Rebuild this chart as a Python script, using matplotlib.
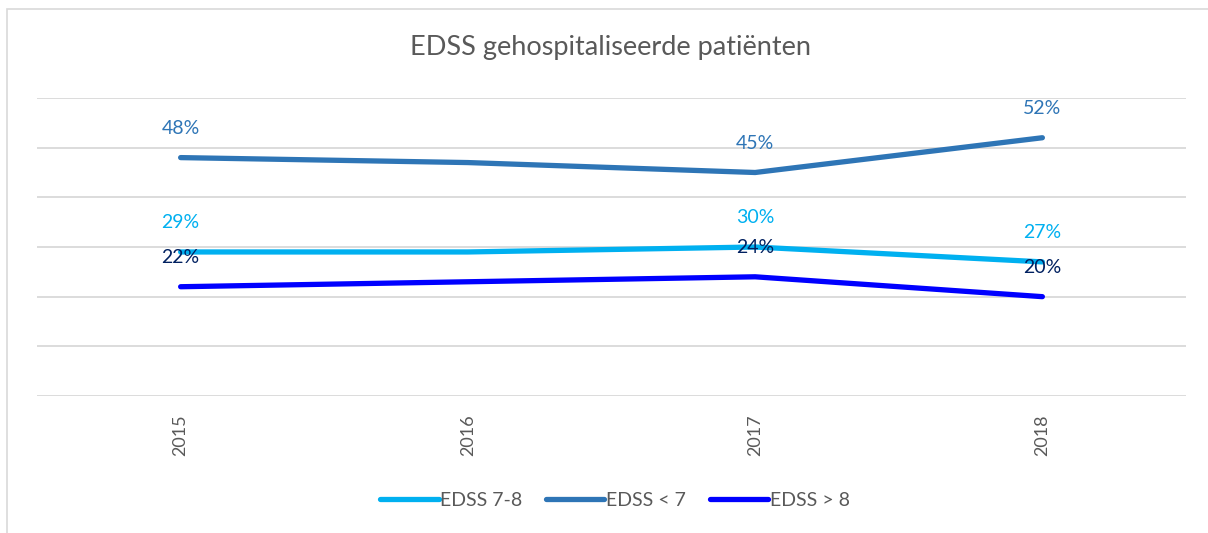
import matplotlib.pyplot as plt
from matplotlib.patches import Rectangle

plt.rcParams['font.family'] = ['Lato', 'DejaVu Sans']

# data
years = ['2015', '2016', '2017', '2018']
edss_78 = [29, 29, 30, 27]
edss_lt7 = [48, 47, 45, 52]
edss_gt8 = [22, 23, 24, 20]
# Excel only labelled these points
label_idx = [0, 2, 3]

series = [
    ('EDSS 7-8', edss_78, '#00B0F0', '#00B0F0'),
    ('EDSS < 7', edss_lt7, '#2E75B6', '#2E75B6'),
    ('EDSS > 8', edss_gt8, '#0000FF', '#002060'),
]

fig = plt.figure(figsize=(12.08, 5.33), dpi=100)
ax = fig.add_axes([37 / 1208, 1 - 396 / 533, 1149 / 1208, 298 / 533])

# chart border (only top/left visible in the crop)
fig.patches.append(Rectangle((7 / 1208, -0.1), 1.2, 1 - 9 / 533 + 0.1,
                             transform=fig.transFigure, fill=False,
                             edgecolor='#D9D9D9', linewidth=1.2))

x = [i + 0.5 for i in range(len(years))]
for name, vals, col, lcol in series:
    ax.plot(x, vals, color=col, linewidth=3.8, solid_capstyle='round',
            label=name, zorder=3)
    for i in label_idx:
        ax.annotate(f'{vals[i]}%', (x[i], vals[i]), xytext=(0, 15),
                    textcoords='offset points', ha='center', va='bottom',
                    fontsize=14, color=lcol, zorder=4)

ax.set_xlim(0, len(years))
ax.set_ylim(0, 60)
ax.set_yticks(range(0, 61, 10))
ax.set_yticklabels([])
ax.set_xticks(x)
ax.set_xticklabels(years, rotation=90, fontsize=13, color='#595959')
ax.tick_params(axis='both', length=0)
ax.tick_params(axis='x', pad=13)
ax.grid(axis='y', color='#D9D9D9', linewidth=1.3)
ax.set_axisbelow(True)
for s in ax.spines.values():
    s.set_visible(False)

fig.text(611 / 1208, 1 - 47 / 533, 'EDSS gehospitaliseerde patiënten',
         ha='center', va='center', fontsize=19.5, color='#595959')

fig.legend(loc='center', bbox_to_anchor=(615 / 1208, 1 - 500 / 533),
           ncol=3, frameon=False, fontsize=14, labelcolor='#595959',
           handlelength=3.0, handletextpad=0.1, columnspacing=1.2)

fig.savefig('out.png', dpi=100)
